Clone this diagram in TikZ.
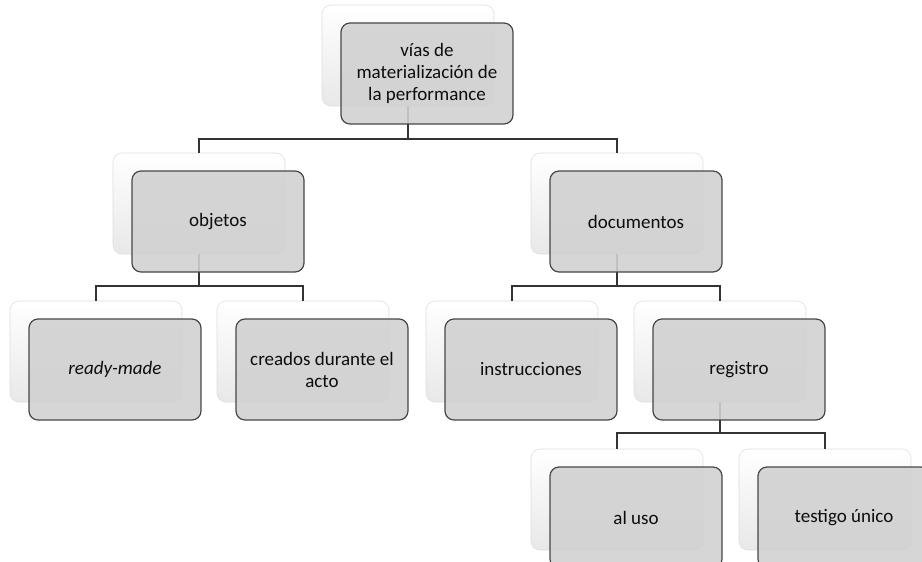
\documentclass[tikz,border=0pt]{standalone}
\usepackage{fontspec}
\setmainfont{Carlito}
\begin{document}
\begin{tikzpicture}[x=1pt,y=-1pt,
  backbox/.style={rectangle, rounded corners=9pt, minimum width=172pt, minimum height=101pt, inner sep=0pt,
    draw=black!13, line width=0.6pt, top color=white, middle color=white, bottom color=black!9},
  frontbox/.style={rectangle, rounded corners=9pt, minimum width=172pt, minimum height=101pt, inner sep=0pt,
    draw=black!72, line width=1.2pt, fill=black!18, fill opacity=0.9, text opacity=1, text=black!95,
    align=center, font=\fontsize{19}{22}\selectfont},
  conn/.style={draw=black!80, line width=1.3pt}
]
\useasboundingbox (0,0) rectangle (922,562);
\clip (0,0) rectangle (922,562);
% back boxes
\node[backbox] (b0) at (408,55.5) {};
\node[backbox] (b1) at (199,203.5) {};
\node[backbox] (b2) at (617,203.5) {};
\node[backbox] (b3) at (96,351.5) {};
\node[backbox] (b4) at (303,351.5) {};
\node[backbox] (b5) at (512,351.5) {};
\node[backbox] (b6) at (720,351.5) {};
\node[backbox] (b7) at (617,499.5) {};
\node[backbox] (b8) at (825,499.5) {};
% connectors
\coordinate (h0) at (408,139);
\coordinate (h1) at (199,286);
\coordinate (h2) at (617,286);
\coordinate (h3) at (720,433);
\draw[conn] (b0.south) -- (h0) -| (b1.north);
\draw[conn] (h0) -| (b2.north);
\draw[conn] (b1.south) -- (h1) -| (b3.north);
\draw[conn] (h1) -| (b4.north);
\draw[conn] (b2.south) -- (h2) -| (b5.north);
\draw[conn] (h2) -| (b6.north);
\draw[conn] (b6.south) -- (h3) -| (b7.north);
\draw[conn] (h3) -| (b8.north);
% front boxes
\node[frontbox] (f0) at (427,73.5) {vías de\\materialización de\\la performance};
\node[frontbox] (f1) at (218,221.5) {objetos};
\node[frontbox] (f2) at (636,221.5) {documentos};
\node[frontbox] (f3) at (115,369.5) {\itshape ready-made};
\node[frontbox] (f4) at (322,369.5) {creados durante el\\acto};
\node[frontbox] (f5) at (531,369.5) {instrucciones};
\node[frontbox] (f6) at (739,369.5) {registro};
\node[frontbox] (f7) at (636,517.5) {al uso};
\node[frontbox] (f8) at (844,517.5) {testigo único};
\end{tikzpicture}
\end{document}
